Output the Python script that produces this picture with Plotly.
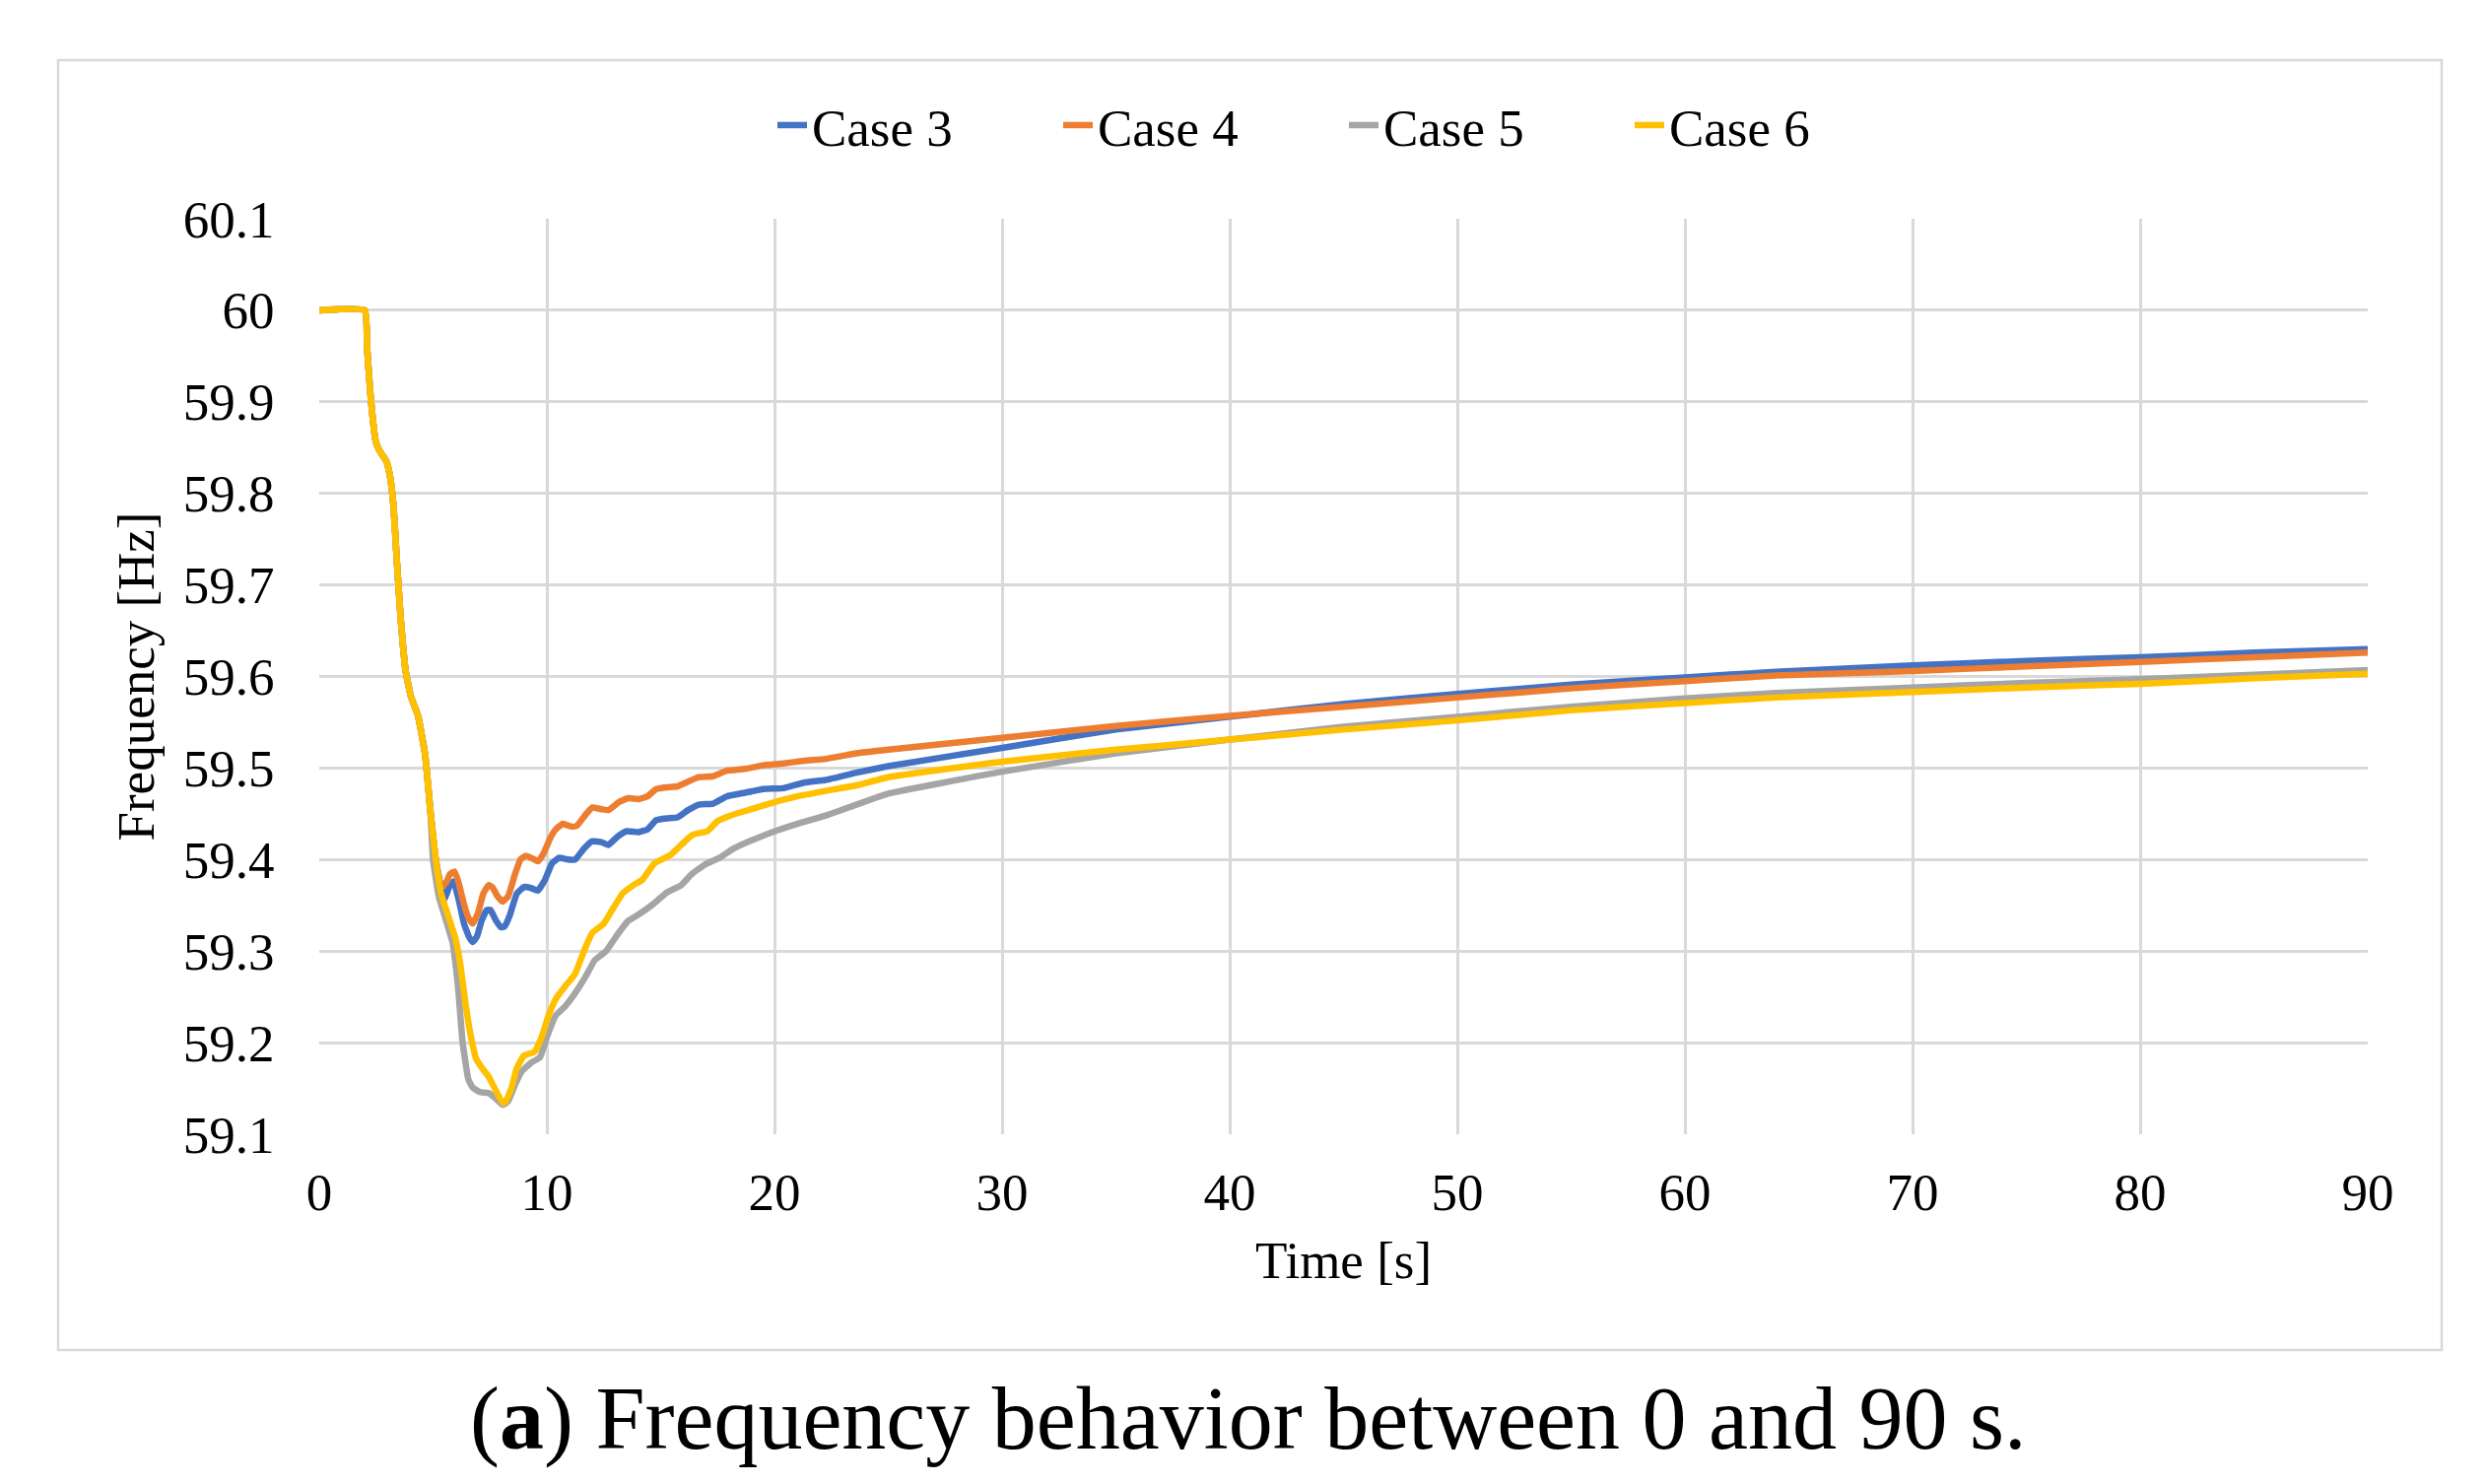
import plotly.graph_objects as go

# ---- data ----
# common initial drop (all four cases coincide until ~5 s)
t_common = [0, 2.0, 2.1, 2.25, 2.48, 2.64, 2.95, 3.1, 3.26, 3.41, 3.57, 3.8, 4.03, 4.34, 4.65, 4.88]
f_common = [60.0, 60.0, 59.96, 59.908, 59.857, 59.847, 59.835, 59.82, 59.787, 59.726, 59.666, 59.605, 59.578, 59.557, 59.515, 59.454]

t_case3 = [5.12, 5.35, 5.5, 5.74, 5.9, 6.12, 6.36, 6.59, 6.74, 6.93, 7.13, 7.36, 7.52, 7.75, 7.98, 8.14, 8.37, 8.68, 9.0, 9.3, 9.6, 9.92, 10.23, 10.54, 10.93, 11.24, 11.63, 12.0, 12.4, 12.7, 13.1, 13.5, 14.03, 14.42, 14.8, 15.27, 15.74, 16.2, 16.67, 17.3, 17.9, 18.7, 19.5, 20.4, 21.3, 22.25, 23.6, 25, 30, 35, 40, 45, 50, 55, 60, 64, 70, 75, 80, 85, 90]
f_case3 = [59.40, 59.37, 59.357, 59.372, 59.376, 59.357, 59.33, 59.315, 59.31, 59.316, 59.333, 59.345, 59.345, 59.334, 59.326, 59.327, 59.339, 59.363, 59.37, 59.369, 59.366, 59.378, 59.396, 59.402, 59.4, 59.4, 59.412, 59.42, 59.419, 59.416, 59.425, 59.431, 59.43, 59.433, 59.443, 59.445, 59.446, 59.454, 59.46, 59.461, 59.469, 59.473, 59.477, 59.478, 59.484, 59.487, 59.495, 59.502, 59.522, 59.542, 59.556, 59.57, 59.581, 59.591, 59.599, 59.605, 59.612, 59.617, 59.621, 59.626, 59.630]

t_case4 = [5.12, 5.35, 5.58, 5.74, 5.94, 6.12, 6.36, 6.56, 6.74, 6.98, 7.21, 7.44, 7.6, 7.83, 8.06, 8.3, 8.6, 8.84, 9.07, 9.38, 9.61, 9.84, 10.16, 10.39, 10.7, 11.09, 11.32, 11.7, 12.0, 12.4, 12.7, 13.18, 13.57, 14.03, 14.42, 14.8, 15.27, 15.74, 16.2, 16.67, 17.3, 17.9, 18.7, 19.5, 20.4, 21.3, 22.25, 23.6, 25, 30, 35, 40, 45, 50, 55, 60, 64, 70, 75, 80, 85, 90]
f_case4 = [59.40, 59.37, 59.375, 59.384, 59.387, 59.375, 59.351, 59.336, 59.33, 59.342, 59.363, 59.372, 59.37, 59.36, 59.354, 59.36, 59.384, 59.4, 59.404, 59.401, 59.398, 59.406, 59.424, 59.433, 59.439, 59.436, 59.437, 59.449, 59.457, 59.455, 59.454, 59.463, 59.467, 59.466, 59.469, 59.477, 59.479, 59.48, 59.485, 59.49, 59.491, 59.497, 59.499, 59.503, 59.505, 59.508, 59.51, 59.516, 59.520, 59.533, 59.546, 59.557, 59.567, 59.577, 59.587, 59.595, 59.601, 59.606, 59.611, 59.616, 59.621, 59.626]

t_case5 = [5.0, 5.25, 5.55, 5.85, 6.1, 6.3, 6.55, 6.74, 7.05, 7.44, 7.75, 8.06, 8.3, 8.6, 8.91, 9.3, 9.7, 10.0, 10.4, 10.78, 11.24, 11.7, 12.1, 12.6, 13.1, 13.57, 14.03, 14.65, 15.27, 15.9, 16.36, 16.98, 17.6, 18.2, 19.0, 19.9, 21.0, 22.25, 23.6, 25, 30, 35, 40, 45, 50, 55, 60, 64, 70, 75, 80, 85, 90]
f_case5 = [59.40, 59.36, 59.335, 59.31, 59.26, 59.20, 59.16, 59.151, 59.146, 59.145, 59.139, 59.132, 59.136, 59.154, 59.169, 59.178, 59.184, 59.206, 59.23, 59.239, 59.254, 59.272, 59.29, 59.30, 59.318, 59.333, 59.34, 59.351, 59.364, 59.372, 59.384, 59.395, 59.402, 59.412, 59.421, 59.43, 59.439, 59.448, 59.46, 59.472, 59.496, 59.516, 59.531, 59.545, 59.556, 59.567, 59.576, 59.582, 59.588, 59.593, 59.597, 59.602, 59.607]

t_case6 = [5.12, 5.35, 5.66, 5.97, 6.2, 6.43, 6.67, 6.9, 7.13, 7.44, 7.75, 8.06, 8.2, 8.45, 8.68, 9.0, 9.46, 9.77, 10.08, 10.4, 10.85, 11.24, 11.63, 12.0, 12.5, 12.87, 13.33, 13.8, 14.2, 14.73, 15.43, 15.9, 16.4, 17.05, 17.5, 18.06, 18.84, 19.77, 21.0, 22.25, 23.6, 25, 30, 35, 40, 45, 50, 55, 60, 64, 70, 75, 80, 85, 90]
f_case6 = [59.40, 59.363, 59.339, 59.315, 59.285, 59.242, 59.206, 59.182, 59.173, 59.163, 59.148, 59.134, 59.136, 59.151, 59.172, 59.186, 59.19, 59.206, 59.23, 59.248, 59.263, 59.275, 59.30, 59.32, 59.33, 59.345, 59.363, 59.372, 59.378, 59.396, 59.405, 59.416, 59.427, 59.431, 59.442, 59.448, 59.454, 59.461, 59.469, 59.475, 59.481, 59.49, 59.507, 59.52, 59.531, 59.542, 59.552, 59.563, 59.571, 59.577, 59.583, 59.588, 59.592, 59.598, 59.603]

series_names = ["Case 3", "Case 4", "Case 5", "Case 6"]
series_colors = ["#4472C4", "#ED7D31", "#A5A5A5", "#FFC000"]
series_t = [t_case3, t_case4, t_case5, t_case6]
series_f = [f_case3, f_case4, f_case5, f_case6]

x_ticks = [0, 10, 20, 30, 40, 50, 60, 70, 80, 90]
y_ticks = [59.1, 59.2, 59.3, 59.4, 59.5, 59.6, 59.7, 59.8, 59.9, 60.0, 60.1]
y_tick_text = ["59.1", "59.2", "59.3", "59.4", "59.5", "59.6", "59.7", "59.8", "59.9", "60", "60.1"]

x_title = "Time [s]"
y_title = "Frequency [Hz]"
caption = "(<b>a</b>) Frequency behavior between 0 and 90 s."

FONT = "Liberation Serif"

fig = go.Figure()
for name, color, ts, fs in zip(series_names, series_colors, series_t, series_f):
    fig.add_trace(go.Scatter(
        x=t_common + ts, y=f_common + fs, name=name, mode="lines",
        line=dict(color=color, width=6.5, shape="spline", smoothing=0.35),
    ))

W, H = 2523, 1506
L, R, T, B = 316, 2395, 214, 1143  # plot area in pixels
pw, ph = R - L, B - T

def px(x):
    return (x - L) / pw

def py(y):
    return (B - y) / ph

fig.update_layout(
    width=W, height=H, autosize=False,
    margin=dict(l=L, r=W - R, t=T, b=H - B, pad=0),
    paper_bgcolor="white", plot_bgcolor="white",
    font=dict(family=FONT, size=53, color="black"),
    showlegend=True,
    legend=dict(orientation="h", x=px(776), xanchor="left", y=py(119), yanchor="middle",
                font=dict(family=FONT, size=53, color="black"),
                entrywidth=245, bgcolor="rgba(0,0,0,0)", traceorder="normal"),
    xaxis=dict(range=[0, 90], tickvals=x_ticks, showgrid=True, gridcolor="#D9D9D9", gridwidth=2.5,
               zeroline=False, showline=False, ticks="outside", ticklen=12, tickcolor="rgba(0,0,0,0)",
               tickfont=dict(family=FONT, size=53, color="black"),
               title=dict(text=x_title, font=dict(family=FONT, size=53, color="black"), standoff=22),
               automargin=False),
    yaxis=dict(range=[59.1, 60.1], tickvals=y_ticks, ticktext=y_tick_text, showgrid=True,
               gridcolor="#D9D9D9", gridwidth=2.5, zeroline=False, showline=False,
               ticks="outside", ticklen=34, tickcolor="rgba(0,0,0,0)",
               tickfont=dict(family=FONT, size=53, color="black"),
               title=dict(text=y_title, font=dict(family=FONT, size=53, color="black"), standoff=12),
               automargin=False),
    shapes=[dict(type="rect", xref="paper", yref="paper",
                 x0=px(51), x1=px(2470), y0=py(1362), y1=py(53),
                 line=dict(color="#D9D9D9", width=2.5), fillcolor="rgba(0,0,0,0)", layer="below")],
    annotations=[dict(text=caption, xref="paper", yref="paper", x=px(1259), y=py(1432),
                      xanchor="center", yanchor="middle", showarrow=False,
                      font=dict(family=FONT, size=90, color="black"))],
)

fig.write_html("out.html")
